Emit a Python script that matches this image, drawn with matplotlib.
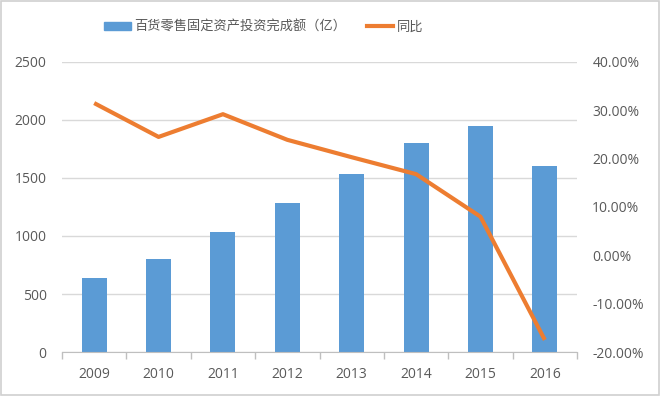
import matplotlib
matplotlib.use("Agg")
import matplotlib.pyplot as plt
from matplotlib.patches import Rectangle
from matplotlib.lines import Line2D
import numpy as np

plt.rcParams['font.family'] = ['Open Sans', 'Noto Sans CJK SC', 'DejaVu Sans']

years = ['2009', '2010', '2011', '2012', '2013', '2014', '2015', '2016']
investment = [640, 799, 1034, 1282, 1537, 1805, 1948, 1606]
yoy = [31.5, 24.5, 29.2, 23.9, 20.3, 16.8, 8.0, -17.5]

bar_label = '百货零售固定资产投资完成额（亿）'
line_label = '同比'

blue = '#5B9BD5'
orange = '#ED7D31'
tick_color = '#595959'
grid_color = '#D9D9D9'

fig = plt.figure(figsize=(6.6, 3.96), dpi=100)
fig.patch.set_facecolor('white')
fig.add_artist(Rectangle((0.002, 0.003), 0.996, 0.994, transform=fig.transFigure,
                         fill=False, edgecolor='#D0D0D0', linewidth=1.2))

ax = fig.add_axes([62/660, 1-352/396, 515/660, 290/396])
ax2 = ax.twinx()

x = np.arange(len(years))
ax.bar(x, investment, width=0.39, color=blue, zorder=2, label=bar_label)
ax2.plot(x, [v/100 for v in yoy], color=orange, linewidth=3, zorder=3,
         label=line_label, solid_capstyle='butt')

ax.set_xlim(-0.5, len(years)-0.5)
ax.set_ylim(0, 2500)
ax.set_yticks(np.arange(0, 2501, 500))
ax2.set_ylim(-0.2, 0.4)
ax2.set_yticks(np.arange(-0.2, 0.41, 0.1))
ax2.set_yticklabels([f'{v*100:.2f}%' for v in np.arange(-0.2, 0.41, 0.1)])

ax.grid(axis='y', color=grid_color, linewidth=1, zorder=0)
ax.set_axisbelow(True)

ax.set_xticks(x)
ax.set_xticklabels(years)
ax.set_xticks(np.arange(-0.5, len(years), 1), minor=True)
ax.tick_params(axis='x', which='major', length=0, pad=11, labelsize=10, colors=tick_color)
ax.tick_params(axis='x', which='minor', length=5, color='#BFBFBF', width=1)
ax.tick_params(axis='y', length=0, pad=11, labelsize=10, colors=tick_color)
ax2.tick_params(axis='y', length=0, pad=11, labelsize=10, colors=tick_color)

for a in (ax, ax2):
    for s in ['top', 'left', 'right']:
        a.spines[s].set_visible(False)
ax2.spines['bottom'].set_visible(False)
ax.spines['bottom'].set_color('#BFBFBF')

handles = [Rectangle((0, 0), 1, 1, color=blue), Line2D([0], [0], color=orange, linewidth=3)]
fig.legend(handles, [bar_label, line_label], loc='center', bbox_to_anchor=(264/660, 1-27/396),
           ncol=2, frameon=False, handlelength=2.0, handleheight=0.6,
           handletextpad=0.3, columnspacing=1.55, labelcolor=tick_color,
           prop={'family': ['Noto Sans CJK SC', 'DejaVu Sans'], 'size': 9.5})

fig.savefig('out.png', dpi=100)
